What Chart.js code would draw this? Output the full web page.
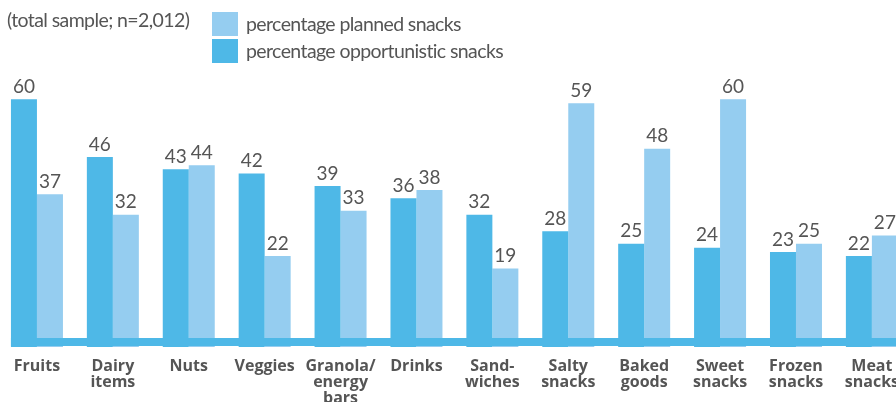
<!DOCTYPE html>
<html>
<head>
<meta charset="utf-8">
<script src="https://cdn.jsdelivr.net/npm/chart.js@4.4.0/dist/chart.umd.min.js"></script>
<style>
    html, body {
        margin: 0;
        padding: 0;
        width: 896px;
        height: 402px;
        overflow: hidden;
        background: #ffffff;
        font-family: Lato, sans-serif;
    }
    #wrap {
        position: absolute;
        left: -1px;
        top: 0;
        width: 911px;
        height: 402px;
    }
    #note {
        position: absolute;
        left: 7px;
        top: 8px;
        font-size: 19.5px;
        letter-spacing: -0.6px;
        color: #555555;
    }
    #legend {
        position: absolute;
        left: 212px;
        top: 10px;
    }
    .item {
        display: flex;
        align-items: center;
        height: 27px;
        font-size: 19.5px;
        letter-spacing: -0.6px;
        color: #555555;
    }
    .box {
        width: 26px;
        height: 24px;
        margin-right: 8px;
    }
</style>
</head>
<body>
<div id="wrap"><canvas id="chart" width="911" height="402"></canvas></div>
<div id="note">(total sample; n=2,012)</div>
<div id="legend"></div>

<script>
// Snack categories (multi-line tick labels)
const categories = [
    'Fruits',
    ['Dairy', 'items'],
    'Nuts',
    'Veggies',
    ['Granola/', 'energy', 'bars'],
    'Drinks',
    ['Sand-', 'wiches'],
    ['Salty', 'snacks'],
    ['Baked', 'goods'],
    ['Sweet', 'snacks'],
    ['Frozen', 'snacks'],
    ['Meat', 'snacks']
];

const opportunistic = [60, 46, 43, 42, 39, 36, 32, 28, 25, 24, 23, 22];
const planned = [37, 32, 44, 22, 33, 38, 19, 59, 48, 60, 25, 27];

const OPP_COLOR = '#4eb8e7';
const PLAN_COLOR = '#95cdf0';
const TEXT_COLOR = '#555555';

// Value labels above each bar
const valueLabels = {
    id: 'valueLabels',
    afterDatasetsDraw(chart) {
        const ctx = chart.ctx;
        ctx.save();
        ctx.font = '19px Lato, sans-serif';
        ctx.fillStyle = TEXT_COLOR;
        ctx.textAlign = 'center';
        ctx.textBaseline = 'bottom';
        chart.data.datasets.forEach((ds, i) => {
            chart.getDatasetMeta(i).data.forEach((bar, j) => {
                ctx.fillText(ds.data[j], bar.x, bar.y - 3);
            });
        });
        ctx.restore();
    }
};

// Thick base band running under the bars
const baseBand = {
    id: 'baseBand',
    afterDatasetsDraw(chart) {
        const ctx = chart.ctx;
        const first = chart.getDatasetMeta(0).data[0];
        const left = first.x - first.width / 2;
        const bottom = chart.scales.y.getPixelForValue(0);
        ctx.save();
        ctx.fillStyle = OPP_COLOR;
        ctx.fillRect(left, bottom - 9, chart.width - left, 8);
        ctx.restore();
    }
};

const chart = new Chart(document.getElementById('chart').getContext('2d'), {
    type: 'bar',
    data: {
        labels: categories,
        datasets: [{
                label: 'percentage opportunistic snacks',
                data: opportunistic,
                backgroundColor: OPP_COLOR
            },
            {
                label: 'percentage planned snacks',
                data: planned,
                backgroundColor: PLAN_COLOR
            }
        ]
    },
    options: {
        responsive: false,
        animation: false,
        categoryPercentage: 0.685,
        barPercentage: 1,
        layout: {
            padding: 0
        },
        plugins: {
            legend: {
                display: false
            },
            tooltip: {
                enabled: false
            }
        },
        scales: {
            x: {
                grid: {
                    display: false,
                    drawTicks: false
                },
                border: {
                    display: false
                },
                ticks: {
                    padding: 11,
                    maxRotation: 0,
                    autoSkip: false,
                    color: TEXT_COLOR,
                    font: {
                        family: '"Open Sans", sans-serif',
                        size: 16,
                        weight: 'bold',
                        lineHeight: 1
                    }
                },
                afterFit(scale) {
                    scale.height = 55;
                }
            },
            y: {
                display: false,
                min: 0,
                max: 84
            }
        }
    },
    plugins: [valueLabels, baseBand]
});

// Legend: planned first, then opportunistic
const legend = document.getElementById('legend');
[chart.data.datasets[1], chart.data.datasets[0]].forEach(ds => {
    const item = document.createElement('div');
    item.className = 'item';
    const box = document.createElement('div');
    box.className = 'box';
    box.style.background = ds.backgroundColor;
    const text = document.createElement('span');
    text.textContent = ds.label;
    item.appendChild(box);
    item.appendChild(text);
    legend.appendChild(item);
});
</script>
</body>
</html>
